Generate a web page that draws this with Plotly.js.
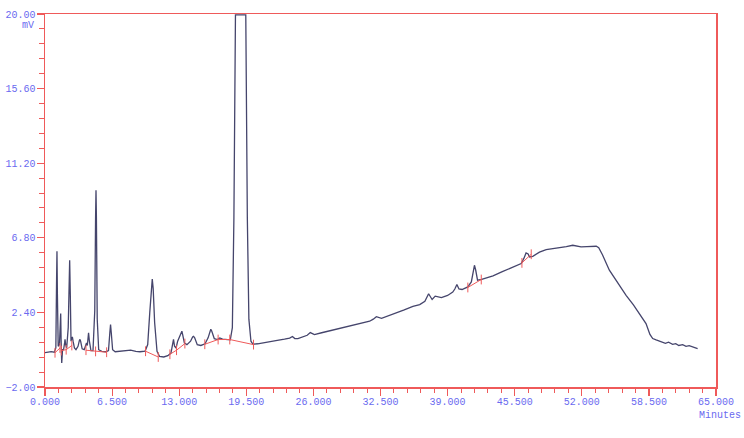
<!DOCTYPE html>
<html>
<head>
<meta charset="utf-8">
<script src="https://cdn.plot.ly/plotly-3.0.1.min.js"></script>
<style>html,body{margin:0;padding:0;background:#fff;}#chart{width:744px;height:438px;}</style>
</head>
<body>
<div id="chart"></div>
<script>
// Chromatogram signal (time in minutes, signal in mV)
const timeMin = [0, 0.3, 0.6, 0.9, 1.05, 1.12, 1.16, 1.2, 1.28, 1.4, 1.45, 1.52, 1.56, 1.62, 1.7, 1.8, 1.9, 1.94, 2.0, 2.1, 2.25, 2.33, 2.39, 2.45, 2.52, 2.6, 2.65, 2.72, 2.85, 3.0, 3.2, 3.33, 3.39, 3.45, 3.6, 3.8, 3.95, 4.02, 4.1, 4.16, 4.22, 4.3, 4.45, 4.65, 4.82, 4.9, 4.94, 4.98, 5.06, 5.2, 5.5, 5.9, 6.15, 6.28, 6.35, 6.42, 6.55, 6.8, 7.3, 7.8, 8.3, 8.8, 9.2, 9.7, 9.95, 10.15, 10.3, 10.39, 10.48, 10.62, 10.85, 11.1, 11.5, 11.9, 12.2, 12.35, 12.45, 12.55, 12.7, 12.85, 13.05, 13.2, 13.26, 13.33, 13.5, 13.75, 14.1, 14.3, 14.39, 14.5, 14.75, 15.1, 15.5, 15.8, 15.98, 16.06, 16.15, 16.4, 16.7, 16.93, 17.2, 17.6, 17.95, 18.15, 18.3, 18.45, 19.45, 19.6, 19.75, 19.95, 20.15, 20.6, 21.2, 21.77, 22.5, 23.2, 23.7, 23.97, 24.2, 24.5, 25.0, 25.4, 25.7, 26.1, 26.8, 27.5, 28.2, 29.2, 30.3, 31.45, 31.8, 32.1, 32.6, 33.3, 34.0, 34.8, 35.64, 36.3, 36.8, 37.16, 37.5, 37.8, 38.4, 39.0, 39.5, 39.7, 39.9, 40.1, 40.4, 40.96, 41.3, 41.5, 41.6, 41.72, 41.9, 42.3, 43.4, 44.3, 45.0, 45.6, 46.13, 46.4, 46.6, 46.8, 46.93, 47.25, 47.9, 48.55, 49.2, 49.84, 50.5, 51.12, 51.5, 51.93, 52.5, 53.06, 53.4, 53.64, 54.0, 54.67, 55.5, 56.29, 57.0, 57.58, 58.22, 58.6, 58.87, 59.2, 59.5, 59.83, 60.1, 60.4, 60.8, 61.1, 61.4, 61.77, 62.1, 62.4, 62.8, 63.22];
const signalMv = [0.03, 0.05, 0.08, 0.05, 0.3, 4.2, 6.0, 3.5, 0.4, 0.5, 1.0, 2.33, 0.8, -0.58, 0.2, 0.2, 0.6, 0.81, 0.5, 0.3, 1.5, 4.6, 5.48, 3.5, 0.7, 0.9, 0.95, 0.7, 0.3, 0.2, 0.4, 0.75, 0.81, 0.7, 0.25, 0.2, 0.5, 0.6, 0.45, 0.9, 1.19, 0.7, 0.15, 0.15, 2.5, 8.0, 9.61, 8.0, 2.0, 0.2, 0.1, 0.08, 0.15, 1.2, 1.68, 1.2, 0.2, 0.08, 0.1, 0.13, 0.18, 0.1, 0.08, 0.12, 0.5, 2.4, 4.0, 4.36, 3.8, 1.8, 0.1, -0.2, -0.23, -0.15, 0.0, 0.5, 0.81, 0.4, 0.3, 0.7, 1.0, 1.25, 1.29, 1.1, 0.6, 0.5, 0.7, 0.95, 0.99, 0.9, 0.5, 0.45, 0.55, 0.9, 1.35, 1.41, 1.3, 0.85, 0.8, 0.89, 0.82, 0.78, 0.78, 1.5, 8.0, 19.95, 19.95, 8.0, 2.0, 0.7, 0.52, 0.55, 0.6, 0.66, 0.75, 0.82, 0.88, 0.98, 0.86, 0.85, 0.95, 1.05, 1.21, 1.09, 1.2, 1.3, 1.42, 1.58, 1.72, 1.88, 2.0, 2.15, 2.05, 2.2, 2.35, 2.55, 2.76, 2.86, 3.05, 3.5, 3.16, 3.36, 3.27, 3.4, 3.6, 3.78, 4.05, 3.78, 3.75, 3.9, 4.2, 4.9, 5.18, 4.9, 4.3, 4.35, 4.55, 4.8, 4.99, 5.12, 5.28, 5.6, 5.91, 5.85, 5.67, 5.71, 5.95, 6.1, 6.15, 6.2, 6.28, 6.36, 6.33, 6.26, 6.28, 6.32, 6.3, 6.22, 5.8, 4.89, 4.1, 3.41, 2.85, 2.33, 1.74, 1.1, 0.86, 0.78, 0.72, 0.66, 0.58, 0.64, 0.52, 0.56, 0.45, 0.5, 0.4, 0.44, 0.34, 0.27];

// Integration baselines (null separates segments)
const baseTime = [0.97, 1.45, null, 1.58, 2.05, 2.6, null, 3.97, 4.9, 5.97, null, 9.74, 10.97, null, 12.1, 12.74, 13.55, null, 15.48, 16.77, 17.9, 20.2, null, 40.96, 42.26, null, 46.2, 47.1];
const baseMv = [0.02, 0.3, null, 0.15, 0.2, 0.45, null, 0.17, 0.1, 0.05, null, 0.11, -0.23, null, -0.07, 0.17, 0.56, null, 0.52, 0.8, 0.8, 0.5, null, 3.87, 4.34, null, 5.32, 5.83];

const xTickStart = 0, xTickStep = 6.5, xMinorStep = 1.3;
const yTickStart = -2, yTickStep = 4.4, yMinorStep = 0.88;

const RED = '#ef5a5a';
const BLUE = '#6a6af0';
const FONT = {family: 'Liberation Mono, DejaVu Sans Mono, monospace', size: 10, color: BLUE};

const traces = [
  {x: timeMin, y: signalMv, mode: 'lines', line: {color: '#45456c', width: 1.3}, hoverinfo: 'skip', showlegend: false},
  {x: baseTime, y: baseMv, mode: 'lines+markers', line: {color: RED, width: 1}, marker: {symbol: 'line-ns', size: 7, line: {color: RED, width: 1}}, hoverinfo: 'skip', showlegend: false, connectgaps: false}
];

const layout = {
  width: 744, height: 438,
  margin: {l: 45, r: 28, t: 14, b: 51},
  paper_bgcolor: '#ffffff', plot_bgcolor: '#ffffff',
  showlegend: false,
  xaxis: {
    range: [0, 65], tick0: xTickStart, dtick: xTickStep, tickformat: '.3f',
    showgrid: false, zeroline: false, showline: true, mirror: true, linecolor: RED, linewidth: 1.5,
    ticks: 'outside', ticklen: 7, tickcolor: RED, tickwidth: 1.2, tickfont: FONT, ticklabelstandoff: -3,
    minor: {dtick: xMinorStep, tick0: xTickStart, ticks: 'outside', ticklen: 4, tickcolor: RED, tickwidth: 1, showgrid: false}
  },
  yaxis: {
    range: [-2, 20], tick0: yTickStart, dtick: yTickStep, tickformat: '.2f',
    showgrid: false, zeroline: false, showline: true, mirror: true, linecolor: RED, linewidth: 1.5,
    ticks: 'outside', ticklen: 7, tickcolor: RED, tickwidth: 1.2, tickfont: FONT, ticklabelstandoff: -1,
    minor: {dtick: yMinorStep, tick0: yTickStart, ticks: 'outside', ticklen: 5, tickcolor: RED, tickwidth: 1, showgrid: false}
  },
  annotations: [
    {text: 'mV', xref: 'paper', yref: 'paper', x: -0.025, y: 0.968, xanchor: 'center', yanchor: 'middle', showarrow: false, font: FONT},
    {text: 'Minutes', xref: 'paper', yref: 'paper', x: 1.006, y: -0.076, xanchor: 'center', yanchor: 'middle', showarrow: false, font: FONT}
  ]
};

Plotly.newPlot('chart', traces, layout, {staticPlot: true, displayModeBar: false});
</script>
</body>
</html>
